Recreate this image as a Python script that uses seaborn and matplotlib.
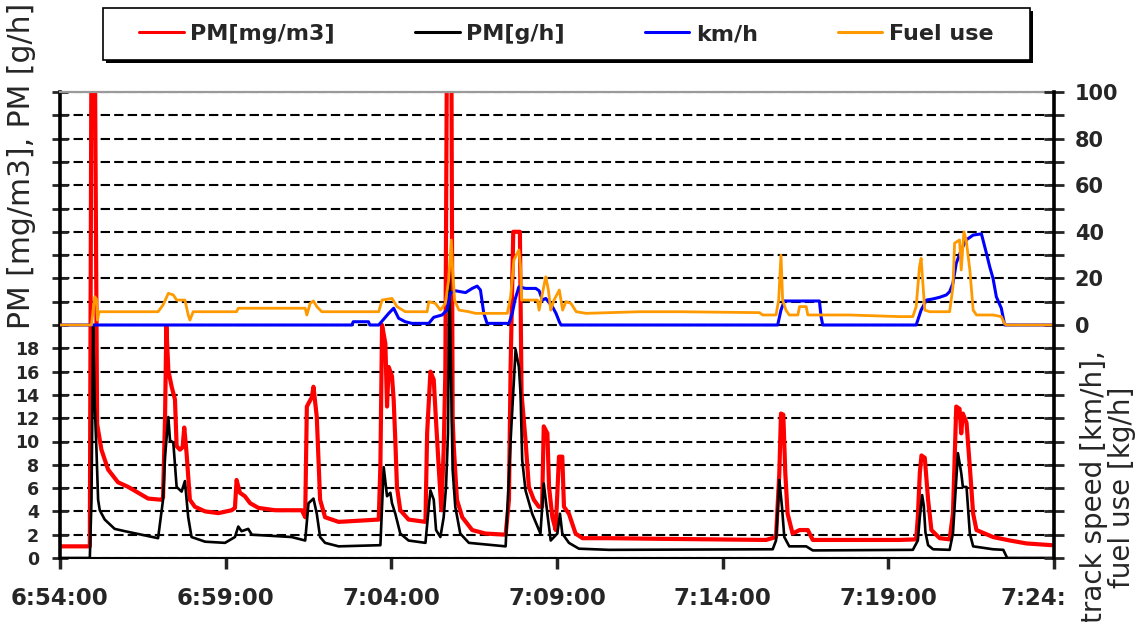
import matplotlib
matplotlib.use("Agg")
import matplotlib.pyplot as plt
from matplotlib.lines import Line2D
from matplotlib.patches import Rectangle
from matplotlib.transforms import ScaledTranslation
import numpy as np
import pandas as pd
import seaborn as sns

# -----------------------------
# data (minutes after 6:54:00)
# -----------------------------
pm_conc_t = [0, 0.90, 0.95, 1.05, 1.12, 1.25, 1.45, 1.75, 2.06, 2.36, 2.66, 3.06, 3.11, 3.17, 3.21,
             3.27, 3.37, 3.47, 3.52, 3.62, 3.70, 3.75, 3.82, 3.92, 4.07, 4.38, 4.78, 5.18, 5.28, 5.33,
             5.43, 5.58, 5.74, 5.99, 6.49, 7.30, 7.40, 7.45, 7.60, 7.65, 7.75, 7.85, 8.00, 8.41, 9.00,
             9.62, 9.67, 9.72, 9.82, 9.87, 9.92, 10.02, 10.07, 10.12, 10.17, 10.27, 10.52, 11.03, 11.08,
             11.18, 11.28, 11.33, 11.43, 11.51, 11.58, 11.63, 11.68, 11.81, 11.85, 11.88, 11.98, 12.14,
             12.44, 12.84, 13.45, 13.55, 13.60, 13.68, 13.88, 13.93, 14.05, 14.15, 14.30, 14.45, 14.55,
             14.60, 14.71, 14.76, 14.86, 14.96, 15.06, 15.16, 15.21, 15.36, 15.56, 15.77, 16.57, 18.00,
             21.31, 21.61, 21.71, 21.76, 21.83, 21.89, 21.96, 22.11, 22.32, 22.57, 22.72, 25.34, 25.84,
             25.89, 25.95, 26.00, 26.10, 26.20, 26.30, 26.55, 26.85, 26.95, 27.05, 27.15, 27.20, 27.25,
             27.36, 27.46, 27.56, 27.66, 28.16, 28.67, 29.17, 29.93]
pm_conc = [1.0, 1.0, 45, 45, 11.5, 9.3, 7.6, 6.5, 6.1, 5.6, 5.1, 5.0, 5.2, 12, 19.9,
           16.1, 14.7, 13.6, 9.6, 9.3, 9.5, 11.2, 9.0, 5.0, 4.4, 4.0, 3.85, 4.1, 4.3, 6.7,
           5.6, 5.3, 4.7, 4.3, 4.1, 4.1, 3.5, 13.0, 13.8, 14.7, 12.1, 5.0, 3.5, 3.1, 3.2,
           3.3, 8.0, 20.0, 18.4, 13.0, 16.4, 15.6, 13.6, 10.1, 6.1, 4.1, 3.3, 3.1, 10.7,
           16.0, 15.3, 12.7, 7.8, 4.1, 9.3, 15.9, 45, 45, 12.0, 9.8, 5.0, 3.5,
           2.4, 2.1, 2.0, 5.0, 16.4, 28.0, 28.0, 14.1, 10.1, 6.1, 5.0, 4.4, 4.4,
           11.3, 10.7, 6.1, 3.5, 2.4, 8.7, 8.7, 4.4, 3.8, 2.1, 1.7, 1.7, 1.65,
           1.55, 1.8, 7.3, 12.4, 12.3, 7.3, 3.8, 2.1, 2.4, 2.4, 1.55, 1.55, 1.6,
           3.5, 7.3, 8.8, 8.6, 5.0, 2.4, 1.7, 1.6, 3.8, 13.0, 12.8, 10.7, 12.4,
           11.6, 7.8, 3.8, 2.4, 1.8, 1.5, 1.25, 1.1]

pm_rate_t = [0, 0.90, 0.95, 1.00, 1.05, 1.10, 1.15, 1.20, 1.35, 1.65, 1.96, 2.46, 2.96, 3.11, 3.17,
             3.27, 3.32, 3.42, 3.52, 3.67, 3.77, 3.87, 3.97, 4.38, 4.98, 5.28, 5.38, 5.48, 5.68, 5.79,
             6.99, 7.40, 7.50, 7.65, 7.75, 7.85, 8.00, 8.41, 9.67, 9.77, 9.87, 9.97, 10.02, 10.12,
             10.27, 10.52, 11.03, 11.13, 11.18, 11.28, 11.35, 11.48, 11.58, 11.65, 11.71, 11.75, 11.81,
             11.85, 11.93, 12.08, 12.34, 13.45, 13.60, 13.75, 13.85, 13.90, 13.95, 14.05, 14.25, 14.50,
             14.60, 14.71, 14.81, 15.01, 15.09, 15.16, 15.36, 15.66, 16.57, 21.51, 21.61, 21.71, 21.79,
             21.86, 22.01, 22.52, 22.72, 25.74, 25.89, 25.95, 26.02, 26.07, 26.12, 26.20, 26.35, 26.85,
             26.95, 27.10, 27.20, 27.25, 27.36, 27.46, 27.56, 28.16, 28.47, 28.57, 28.60, 30.00]
pm_rate = [0, 0, 5.0, 20.0, 13.0, 9.3, 5.0, 4.1, 3.3, 2.5, 2.3, 2.0, 1.7, 5.0, 8.7,
           12.1, 10.1, 9.9, 6.1, 5.7, 6.6, 3.5, 1.8, 1.4, 1.3, 1.8, 2.7, 2.3, 2.5, 2.0,
           1.8, 1.5, 4.7, 5.1, 3.8, 1.8, 1.3, 1.0, 1.1, 7.8, 5.3, 5.6, 4.7, 3.8,
           2.1, 1.5, 1.3, 4.4, 5.8, 5.0, 2.4, 1.8, 3.5, 6.1, 10.7, 24.5, 14.4,
           7.6, 4.4, 2.1, 1.3, 1.0, 10.1, 17.9, 16.4, 14.1, 8.4, 5.8, 3.8, 2.1,
           6.4, 3.8, 1.5, 2.1, 3.8, 2.1, 1.3, 0.8, 0.7, 0.75, 1.5, 6.7, 4.4,
           1.8, 1.0, 1.0, 0.65, 0.7, 1.5, 3.5, 5.4, 4.5, 2.2, 1.1, 0.75, 0.7,
           2.1, 9.0, 7.3, 6.1, 6.1, 2.1, 1.0, 0.75, 0.7, 0.1, 0, 0]

speed_t = [0, 8.81, 8.85, 9.31, 9.35, 9.62, 9.92, 10.07, 10.22, 10.42, 10.62, 11.13, 11.28, 11.53,
           11.68, 11.78, 11.93, 12.24, 12.44, 12.59, 12.69, 12.79, 12.89, 13.55, 13.65, 13.73, 13.85,
           14.05, 14.36, 14.46, 14.56, 14.66, 14.86, 14.97, 15.07, 15.12, 21.66, 21.76, 21.86, 22.92,
           22.97, 23.02, 25.84, 25.99, 26.15, 26.35, 26.55, 26.75, 26.85, 26.95, 27.05, 27.20, 27.35,
           27.56, 27.81, 27.96, 28.06, 28.16, 28.26, 28.41, 28.51, 30.00]
speed = [0, 0, 1.4, 1.4, 0, 0, 5.0, 7.2, 2.9, 1.4, 0.7, 0.7, 3.3, 4.3,
         6.4, 13.6, 14.7, 13.9, 15.7, 16.7, 15.0, 5.0, 0.7, 0.7, 5.0, 10.7, 16.4,
         15.7, 15.7, 14.7, 10.7, 11.4, 7.9, 5.0, 1.4, 0, 0, 6.4, 10.3, 10.3,
         3.6, 0, 0, 6.4, 10.7, 11.2, 11.9, 12.9, 14.3, 17.9, 26.5, 32.2, 36.5,
         38.6, 39.1, 30.8, 25.0, 20.0, 12.1, 7.2, 0, 0]

fuel_t = [0, 0.95, 1.00, 1.05, 1.10, 1.13, 1.18, 2.96, 3.11, 3.27, 3.42, 3.52, 3.77, 3.87, 3.92,
          4.02, 5.33, 5.38, 7.40, 7.45, 7.55, 7.65, 7.75, 7.90, 9.62, 9.72, 10.02, 10.17, 10.42,
          11.08, 11.13, 11.33, 11.48, 11.63, 11.73, 11.81, 11.85, 11.91, 12.04, 12.34, 12.54, 13.50,
          13.60, 13.70, 13.85, 13.90, 13.93, 14.41, 14.46, 14.56, 14.66, 14.74, 14.81, 14.91, 15.07,
          15.12, 15.17, 15.27, 15.42, 15.58, 15.88, 17.49, 18.69, 21.11, 21.21, 21.61, 21.69, 21.76,
          21.81, 21.91, 22.01, 22.27, 22.32, 22.52, 22.57, 23.83, 25.34, 25.74, 25.84, 25.94, 25.99,
          26.05, 26.10, 26.25, 26.85, 26.95, 27.00, 27.15, 27.20, 27.28, 27.35, 27.46, 27.56, 27.66,
          28.16, 28.41, 28.51, 28.56, 30.00]
fuel = [0, 0, 6.4, 12.1, 11.2, 2.1, 5.7, 5.7, 8.6, 13.6, 12.9, 10.7, 10.7, 4.3, 2.1,
        5.7, 5.7, 7.2, 7.2, 4.3, 9.3, 10.3, 7.9, 5.7, 5.7, 10.7, 11.4, 7.9, 5.7,
        5.7, 10.0, 9.3, 6.4, 9.3, 19.3, 36.5, 23.6, 10.7, 6.4, 5.7, 5.0, 5.0,
        12.1, 27.9, 32.2, 25.0, 10.7, 10.7, 6.4, 13.6, 20.7, 15.0, 6.4, 10.7, 15.0,
        10.7, 6.4, 10.0, 9.3, 5.7, 5.0, 5.7, 5.7, 5.3, 4.3, 4.3, 10.7, 30.0,
        10.7, 6.4, 4.3, 4.3, 7.9, 7.9, 4.3, 4.3, 3.6, 3.6, 7.9, 25.0, 28.6,
        16.4, 6.4, 5.7, 5.7, 16.4, 35.1, 36.5, 23.6, 40.0, 36.5, 23.6, 6.4, 4.3,
        4.3, 3.6, 0.5, 0, 0]

series_names = ["PM[mg/m3]", "PM[g/h]", "km/h", "Fuel use"]
series_colors = ["#ff0000", "#000000", "#0000ff", "#ff9900"]
tick_minutes = [0, 5, 10, 15, 20, 25, 30]
# the last label is cut off by the chart edge in the original
tick_labels = ["6:54:00", "6:59:00", "7:04:00", "7:09:00", "7:14:00", "7:19:00", "7:24:"]

start = pd.Timestamp("2000-01-01 06:54:00")


def frame(t, v):
    return pd.DataFrame({"time": start + pd.to_timedelta(t, unit="min"), "value": v})


sns.set_style("white")
plt.rcParams["font.family"] = ["DejaVu Sans"]

W, H = 1141, 622
fig = plt.figure(figsize=(W / 100, H / 100), dpi=100)
ax = fig.add_axes([60 / W, 1 - 558 / H, (1054 - 60) / W, (558 - 92) / H])
ax2 = ax.twinx()

# -----------------------------
# lines
# -----------------------------
sns.lineplot(data=frame(pm_conc_t, pm_conc), x="time", y="value", ax=ax, color=series_colors[0],
             lw=3.0, estimator=None, sort=False)
sns.lineplot(data=frame(pm_rate_t, pm_rate), x="time", y="value", ax=ax, color=series_colors[1],
             lw=1.9, estimator=None, sort=False)
sns.lineplot(data=frame(speed_t, speed), x="time", y="value", ax=ax2, color=series_colors[2],
             lw=2.2, estimator=None, sort=False)
sns.lineplot(data=frame(fuel_t, fuel), x="time", y="value", ax=ax2, color=series_colors[3],
             lw=2.0, estimator=None, sort=False)

# -----------------------------
# axes
# -----------------------------
ax.set_ylim(0, 40)
ax2.set_ylim(-100, 100)
ax.set_xlim(start, start + pd.Timedelta(minutes=30))
ax.set_xlabel("")
ax.set_ylabel("")
ax2.set_ylabel("")

left_ticks = np.arange(0, 41, 2)
ax.set_yticks(left_ticks)
ax.set_yticklabels([str(v) if v <= 18 else "" for v in left_ticks])
right_ticks = np.arange(-100, 101, 10)
ax2.set_yticks(right_ticks)
ax2.set_yticklabels([str(v) if v >= 0 and v % 20 == 0 else "" for v in right_ticks])

ax.set_xticks([start + pd.Timedelta(minutes=m) for m in tick_minutes])
ax.set_xticklabels(tick_labels)

ax.grid(axis="y", color="black", linestyle=(0, (4.5, 2)), linewidth=1.5)
ax.grid(axis="x", visible=False)
ax.set_axisbelow(True)

ax.tick_params(axis="y", direction="inout", length=12, width=2, pad=9, labelsize=12.5, left=True)
ax.tick_params(axis="x", direction="out", length=8, width=2.5, pad=13, labelsize=16.5, bottom=True)
ax2.tick_params(axis="y", direction="inout", length=14, width=2, pad=8, labelsize=15, right=True)
for lbl in ax.get_yticklabels() + ax.get_xticklabels() + ax2.get_yticklabels():
    lbl.set_fontweight("bold")

last = ax.get_xticklabels()[-1]
last.set_horizontalalignment("right")
last.set_transform(last.get_transform() + ScaledTranslation(12 / 100, 0, fig.dpi_scale_trans))

for name, sp in ax.spines.items():
    sp.set_visible(name != "right")
ax.spines["left"].set_color("black")
ax.spines["left"].set_linewidth(2.6)
ax.spines["bottom"].set_color("black")
ax.spines["bottom"].set_linewidth(1.5)
ax.spines["top"].set_color("#9a9a9a")
ax.spines["top"].set_linewidth(1.6)
for name, sp in ax2.spines.items():
    sp.set_visible(name == "right")
ax2.spines["right"].set_color("black")
ax2.spines["right"].set_linewidth(2.6)

# axis titles
fig.text(22 / W, 1 - 166 / H, "PM [mg/m3], PM [g/h]", rotation=90, ha="center", va="center",
         fontsize=21.5)
fig.text(1108 / W, 1 - 487 / H, "track speed [km/h],\nfuel use [kg/h]", rotation=90,
         ha="center", va="center", fontsize=20, multialignment="center", linespacing=1.0)

# -----------------------------
# legend: box with a solid shadow, entries drawn without frame
# -----------------------------
box_x0, box_y0, box_x1, box_y1 = 103, 8, 1030, 60
fig.patches.append(Rectangle(((box_x0 + 3) / W, 1 - (box_y1 + 3) / H), (box_x1 - box_x0) / W,
                             (box_y1 - box_y0) / H, transform=fig.transFigure,
                             facecolor="black", edgecolor="none", zorder=1))
fig.patches.append(Rectangle((box_x0 / W, 1 - box_y1 / H), (box_x1 - box_x0) / W,
                             (box_y1 - box_y0) / H, transform=fig.transFigure,
                             facecolor="white", edgecolor="black", lw=1.2, zorder=2))
handles = [Line2D([], [], color=c, lw=2.2) for c in series_colors]
leg = fig.legend(handles, series_names, loc="center",
                 bbox_to_anchor=((box_x0 + box_x1) / 2 / W, 1 - (box_y0 + box_y1) / 2 / H),
                 ncol=4, frameon=False, prop={"weight": "bold", "size": 16},
                 handlelength=2.0, handletextpad=0.3, columnspacing=3.6, borderpad=0,
                 borderaxespad=0)
leg.set_zorder(3)

fig.savefig("out.png", dpi=100)
plt.close(fig)
